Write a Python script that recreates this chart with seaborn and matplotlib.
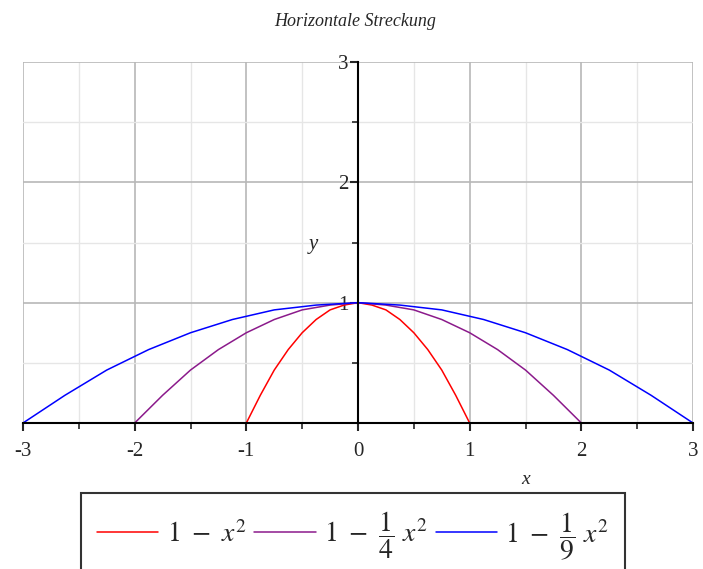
import numpy as np
import pandas as pd
import matplotlib
matplotlib.use("Agg")
import matplotlib.pyplot as plt
import seaborn as sns
from matplotlib.ticker import MultipleLocator

# values
x_red = [-1, -0.875, -0.75, -0.625, -0.5, -0.375, -0.25, -0.125, 0,
         0.125, 0.25, 0.375, 0.5, 0.625, 0.75, 0.875, 1]
y_red = [0, 0.23, 0.44, 0.61, 0.75, 0.86, 0.94, 0.98, 1,
         0.98, 0.94, 0.86, 0.75, 0.61, 0.44, 0.23, 0]

x_purple = [-2, -1.75, -1.5, -1.25, -1, -0.75, -0.5, -0.25, 0,
            0.25, 0.5, 0.75, 1, 1.25, 1.5, 1.75, 2]
y_purple = [0, 0.23, 0.44, 0.61, 0.75, 0.86, 0.94, 0.98, 1,
            0.98, 0.94, 0.86, 0.75, 0.61, 0.44, 0.23, 0]

x_blue = [-3, -2.625, -2.25, -1.875, -1.5, -1.125, -0.75, -0.375, 0,
          0.375, 0.75, 1.125, 1.5, 1.875, 2.25, 2.625, 3]
y_blue = [0, 0.23, 0.44, 0.61, 0.75, 0.86, 0.94, 0.98, 1,
          0.98, 0.94, 0.86, 0.75, 0.61, 0.44, 0.23, 0]

labels = [r"$1\ -\ x^2$", r"$1\ -\ \dfrac{1}{4}\ x^2$", r"$1\ -\ \dfrac{1}{9}\ x^2$"]
colors = ["#ff0000", "#8b1a8b", "#0000ff"]

sns.set_style("white")
plt.rcParams["font.family"] = ["Liberation Serif", "DejaVu Serif"]
plt.rcParams["mathtext.fontset"] = "stix"
plt.rcParams["axes.unicode_minus"] = False

fig = plt.figure(figsize=(7.03, 5.69), dpi=100)
ax = fig.add_axes([23 / 703, 146 / 569, 670 / 703, 361 / 569])

# draw the three curves
for xs, ys, c, lab in zip([x_red, x_purple, x_blue], [y_red, y_purple, y_blue], colors, labels):
    df = pd.DataFrame({"x": xs, "y": ys})
    sns.lineplot(data=df, x="x", y="y", color=c, lw=1.1, label=lab, sort=False, ax=ax, zorder=3)

ax.set_xlim(-3, 3)
ax.set_ylim(0, 3)

# Maple-like axes through the origin
ax.spines["left"].set_position(("data", 0))
ax.spines["bottom"].set_position(("data", 0))
ax.spines["top"].set_visible(False)
ax.spines["right"].set_visible(False)
for s in ["left", "bottom"]:
    ax.spines[s].set_linewidth(1.5)
    ax.spines[s].set_color("black")
    ax.spines[s].set_zorder(4)

ax.set_xticks([-3, -2, -1, 0, 1, 2, 3])
ax.set_yticks([1, 2, 3])
ax.xaxis.set_minor_locator(MultipleLocator(0.5))
ax.yaxis.set_minor_locator(MultipleLocator(0.5))
ax.tick_params(which="both", bottom=True, left=True, top=False, right=False)
ax.tick_params(which="major", direction="out", length=6, width=1.5, labelsize=15, pad=8)
ax.tick_params(which="minor", direction="out", length=4, width=1.2)
ax.tick_params(axis="y", which="major", pad=1)

ax.grid(which="major", color="#b8b8b8", lw=1.2, zorder=0)
ax.grid(which="minor", color="#e6e6e6", lw=1.0, zorder=0)
ax.set_axisbelow(True)

ax.set_xlabel("")
ax.set_ylabel("")
ax.text(1.5, -0.47, "x", style="italic", fontsize=14, ha="center", va="center")
ax.text(-0.4, 1.48, "y", style="italic", fontsize=15, ha="center", va="center")

fig.text(355 / 703, 1 - 21 / 569, "Horizontale Streckung", style="italic",
         fontsize=13, ha="center", va="center")

# legend box runs off the bottom edge like in the reference
leg = ax.legend(loc="upper center", bbox_to_anchor=(353 / 703, 1 - 493 / 569),
                bbox_transform=fig.transFigure, ncol=3, fontsize=20,
                frameon=True, fancybox=False, edgecolor="black",
                handlelength=2.2, handletextpad=0.3, columnspacing=0.3,
                borderpad=0.6, borderaxespad=0)
leg.get_frame().set_linewidth(1.5)

fig.savefig("out.png", dpi=100)
